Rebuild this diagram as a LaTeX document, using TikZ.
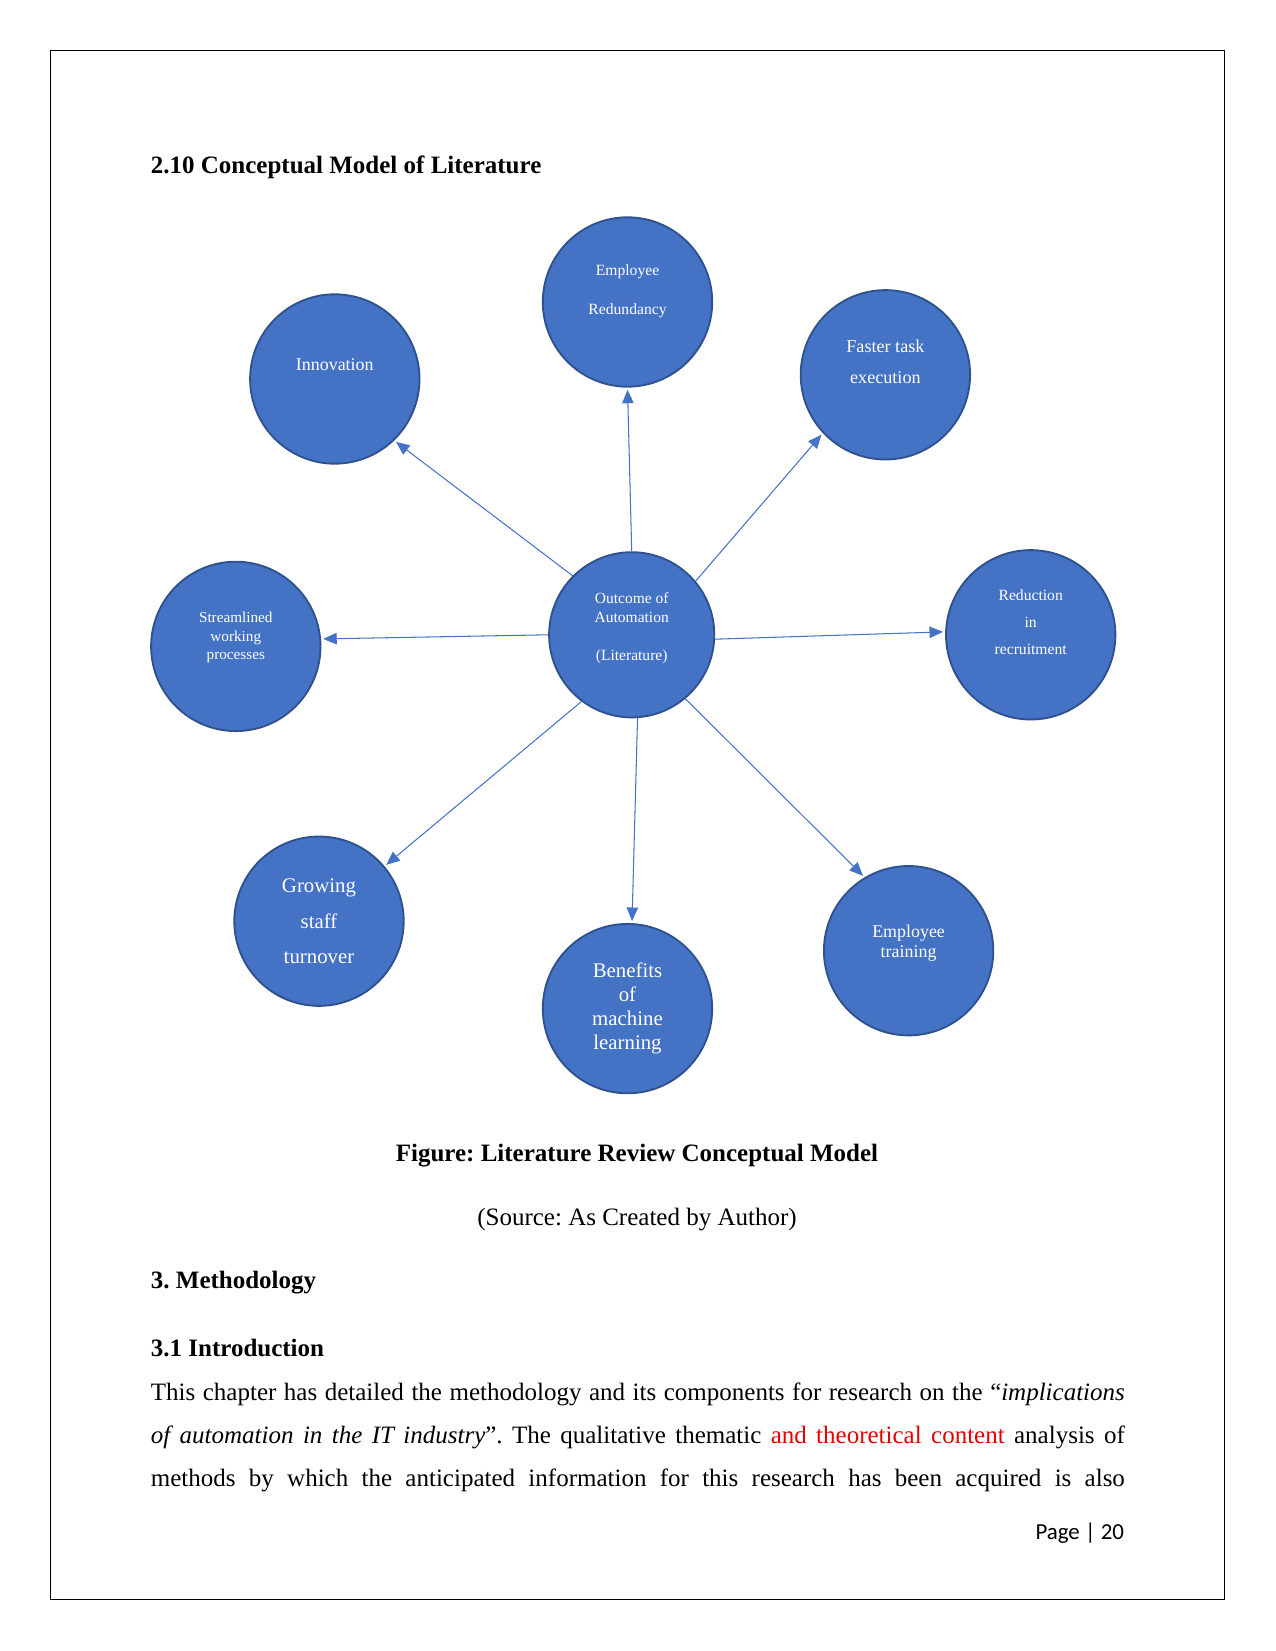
\documentclass[tikz,border=0pt]{standalone}
\usepackage{fontspec}
\setmainfont{Liberation Serif}
\newfontfamily\pagefont{Carlito}
\usetikzlibrary{arrows.meta,positioning}
\definecolor{bubble}{RGB}{68,114,196}
\definecolor{bubbleedge}{RGB}{47,82,143}
\definecolor{spoke}{RGB}{68,114,196}
\definecolor{hilite}{RGB}{230,0,0}
\frenchspacing

\begin{document}
\begin{tikzpicture}[x=0.48pt,y=-0.48pt,
    bub/.style={circle,fill=bubble,draw=bubbleedge,line width=0.9pt,minimum size=81.3pt,inner sep=0pt},
    bubtext/.style={text=white,align=center,inner sep=0pt},
    spokearrow/.style={draw=spoke,line width=0.5pt,shorten >=1pt,-{Triangle[length=6.5pt,width=5.5pt]}},
    heading/.style={font=\bfseries\fontsize{12}{14.4}\selectfont,anchor=base west,inner sep=0pt},
    plain/.style={font=\fontsize{12}{14.4}\selectfont,anchor=base,inner sep=0pt}]
  \useasboundingbox (0,0) rectangle (1275,1651);
  \draw[line width=0.6pt] (50.5,50.5) rectangle (1224.4,1599.2);
  \node[heading] (h210) at (150.5,174) {2.10 Conceptual Model of Literature};

  % centre of the model
  \node[bub,minimum size=79.3pt] (out) at (631.7,634.8) {};
  \node[bubtext,font=\fontsize{7.45}{9.1}\selectfont] at ([yshift=3.3pt]out) {Outcome of\\Automation\\[9.1pt](Literature)};

  % outcomes around it
  \foreach \n/\x/\y/\fs/\ls/\dy/\t in {
    red/627.5/302/7.5/18.7/5/Employee\\Redundancy,
    inno/334.8/379/8.6/10/7/Innovation,
    fast/885.4/374.8/8.7/14.9/6.2/Faster task\\execution,
    strm/235.8/646.4/7.3/8.8/4.3/Streamlined\\working\\processes,
    redu/1030.7/634.8/7.5/12.9/6.2/Reduction\\in\\recruitment,
    grow/319/921.2/10/17.2/0/Growing\\staff\\turnover,
    bene/627.5/1008.6/10/11.5/0/Benefits\\of\\machine\\learning,
    trai/908.6/950.7/8.6/9.6/3.8/Employee\\training}
  {
    \node[bub] (\n) at (\x,\y) {};
    \node[bubtext,font=\fontsize{\fs}{\ls}\selectfont] at ([yshift=\dy pt]\n) {\t};
  }
  \foreach \n/\a/\b in {red/90/-90, inno/135/-46, fast/40/223, strm/180/5,
    redu/-3/178, grow/233/40, bene/-86/87, trai/-50/121}
    \draw[spokearrow] (out.\a) -- (\n.\b);

  \node[plain,font=\bfseries\fontsize{12}{14.4}\selectfont] (cap) at (637,1161) {Figure: Literature Review Conceptual Model};
  \node[plain] (src) at (637,1225) {(Source: As Created by Author)};
  \node[heading] (meth) at (150.5,1288.6) {3. Methodology};
  \node[heading] (intro) at (150.5,1356) {3.1 Introduction};
  \node[anchor=base west,inner sep=0pt,text width=467.5pt,align=justify,font=\fontsize{12}{20.7}\selectfont] (para) at (150.5,1400)
    {\parfillskip=0pt This chapter has detailed the methodology and its components for research on the “\textit{implications}\linebreak
     \textit{of automation in the IT industry}”. The qualitative thematic \textcolor{hilite}{and theoretical content} analysis of\linebreak
     methods by which the anticipated information for this research has been acquired is also\par};
  \node[anchor=base east,inner sep=0pt,font=\pagefont\fontsize{11}{13}\selectfont] (pg) at (1124.4,1539) {Page | 20};
\end{tikzpicture}
\end{document}
